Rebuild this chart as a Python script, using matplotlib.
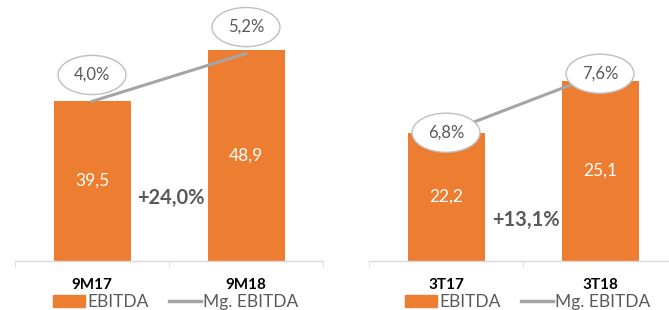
import matplotlib
matplotlib.use("Agg")
import matplotlib.pyplot as plt
from matplotlib.patches import Patch
from matplotlib.lines import Line2D

# left panel: nine months
periods_9m = ["9M17", "9M18"]
ebitda_9m = [39.5, 48.9]
margin_9m = [4.0, 5.2]
growth_9m = "+24,0%"

# right panel: third quarter
periods_3t = ["3T17", "3T18"]
ebitda_3t = [22.2, 25.1]
margin_3t = [6.8, 7.6]
growth_3t = "+13,1%"

ORANGE = "#ED7D31"
LINE_GRAY = "#A5A5A5"
TEXT_GRAY = "#595959"
AXIS_GRAY = "#D9D9D9"

plt.rcParams["font.family"] = ["Lato", "DejaVu Sans"]

W, H = 669, 310
fig = plt.figure(figsize=(W / 100, H / 100), dpi=100)


def fmt(v, suffix=""):
    return f"{v:.1f}".replace(".", ",") + suffix


def panel(left_px, labels, bars, margins, growth, ylim, y2lim, label_above, growth_pos):
    base = 261
    ax = fig.add_axes([left_px / W, (H - base) / H, 308 / W, base / H])
    x = list(range(len(labels)))
    rects = ax.bar(x, bars, width=0.5, color=ORANGE, zorder=2)
    ax.set_xlim(-0.5, len(labels) - 0.5)
    ax.set_ylim(*ylim)
    for r, v in zip(rects, bars):
        ax.text(r.get_x() + r.get_width() / 2, (ylim[0] + v) / 2, fmt(v),
                ha="center", va="center", color="white", fontsize=12.5)
    for s in ["top", "right", "left"]:
        ax.spines[s].set_visible(False)
    ax.spines["bottom"].set_color(AXIS_GRAY)
    ax.spines["bottom"].set_linewidth(1)
    ax.set_yticks([])
    ax.set_xticks(x)
    ax.set_xticklabels(labels, fontsize=11, fontweight="bold", color="black")
    ax.set_xticks([i - 0.5 for i in range(len(labels) + 1)], minor=True)
    ax.tick_params(axis="x", which="major", length=0, pad=12)
    ax.tick_params(axis="x", which="minor", length=4, color=AXIS_GRAY)
    ax.text(growth_pos[0], growth_pos[1], growth, transform=ax.transAxes,
            ha="center", va="center", fontsize=14.5, fontweight="bold", color=TEXT_GRAY)

    ax2 = ax.twinx()
    ax2.plot(x, margins, color=LINE_GRAY, lw=2.2, zorder=3)
    ax2.set_ylim(*y2lim)
    ax2.set_yticks([])
    for s in ["top", "right", "left", "bottom"]:
        ax2.spines[s].set_visible(False)
    off = 19 if label_above else 0
    for xi, m in zip(x, margins):
        ax2.annotate(fmt(m, "%"), (xi, m), xytext=(0, off), textcoords="offset points",
                     ha="center", va="center", fontsize=12, color=TEXT_GRAY, zorder=4,
                     bbox=dict(boxstyle="ellipse,pad=0.35", fc="white", ec="#BFBFBF", lw=1))
    return ax


panel(15, periods_9m, ebitda_9m, margin_9m, growth_9m,
      (10, 58.1), (0, 6.54), True, (0.506, 0.241))
panel(369, periods_3t, ebitda_3t, margin_3t, growth_3t,
      (15.06, 29.6), (5.06, 8.6), False, (0.51, 0.157))

handles = [Patch(color=ORANGE), Line2D([0], [0], color=LINE_GRAY, lw=2.5)]
names = ["EBITDA", "Mg. EBITDA"]
for cx in (176, 528):
    fig.legend(handles, names, loc="center", bbox_to_anchor=(cx / W, 8 / H),
               ncol=2, frameon=False, handlelength=1.8,
               handletextpad=0.15, columnspacing=1.2, labelcolor=TEXT_GRAY,
               prop={"size": 12.5}, borderpad=0, borderaxespad=0)

fig.savefig("out.png", dpi=100)
